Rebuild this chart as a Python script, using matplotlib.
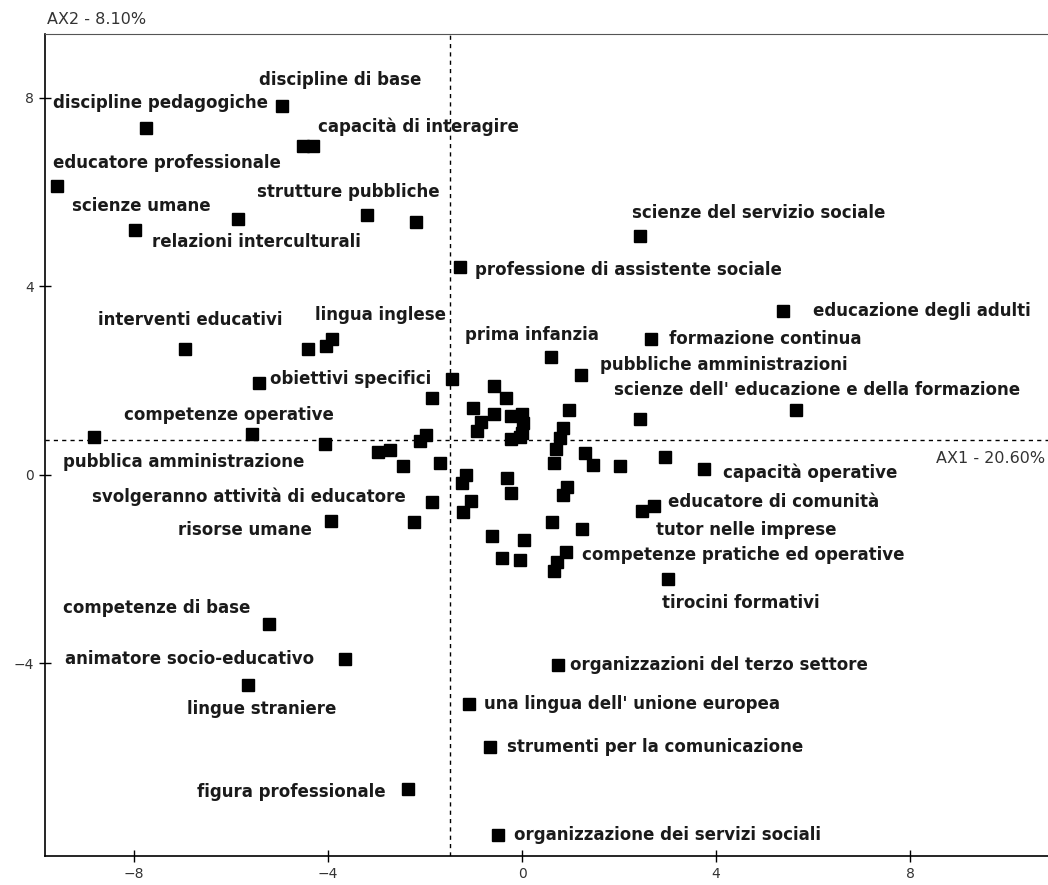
import matplotlib
matplotlib.use("Agg")
from matplotlib import pyplot as plt

# coordinates of every plotted item (AX1, AX2)
ax1 = [-7.76, -4.95, -4.52, -4.30, -9.59, -7.98, -5.85, -3.20, -2.18, 2.44,
       -1.28, 5.39, 2.66, -6.95, -4.41, -4.04, -3.91, 0.60, 1.21, -5.42,
       -1.44, -1.86, -0.57, -0.33, -1.02, -0.57, -0.85, -0.93, -0.23, -0.01,
       0.01, -0.01, -0.23, -0.04, 0.97, 0.84, 0.78, 0.69, 0.66, 1.30,
       1.46, 2.01, 2.44, 5.64, 2.95, 3.76, -5.57, -8.82, -4.06, -2.96,
       -2.72, -2.45, -2.10, -1.98, -1.70, -1.86, -3.94, -2.23, -1.15, -1.24,
       -1.06, -1.21, -0.62, -0.30, -0.23, 0.93, 0.84, 0.62, 1.24, 0.04,
       -0.41, -0.04, 0.91, 0.73, 0.66, 2.47, 2.72, 3.00, -5.21, -3.66,
       -5.66, -2.36, 0.74, -1.10, -0.67, -0.50]
ax2 = [7.37, 7.82, 6.99, 6.97, 6.14, 5.20, 5.43, 5.52, 5.36, 5.06,
       4.42, 3.48, 2.89, 2.67, 2.67, 2.74, 2.89, 2.49, 2.11, 1.95,
       2.04, 1.63, 1.89, 1.63, 1.42, 1.30, 1.11, 0.92, 1.25, 1.30,
       1.10, 0.89, 0.76, 0.81, 1.38, 0.99, 0.78, 0.55, 0.25, 0.46,
       0.21, 0.18, 1.19, 1.38, 0.38, 0.12, 0.87, 0.81, 0.65, 0.49,
       0.53, 0.19, 0.71, 0.85, 0.25, -0.57, -0.98, -1.01, 0.00, -0.18,
       -0.55, -0.79, -1.30, -0.06, -0.39, -0.25, -0.42, -1.01, -1.15, -1.39,
       -1.77, -1.80, -1.64, -1.86, -2.05, -0.76, -0.66, -2.21, -3.16, -3.91,
       -4.46, -6.67, -4.03, -4.86, -5.77, -7.64]

# words written on the map and where they sit
terms = ["discipline di base", "discipline pedagogiche", "capacità di interagire",
         "educatore professionale", "strutture pubbliche", "scienze umane",
         "relazioni interculturali", "scienze del servizio sociale",
         "professione di assistente sociale", "educazione degli adulti",
         "interventi educativi", "lingua inglese", "prima infanzia",
         "formazione continua", "pubbliche amministrazioni", "obiettivi specifici",
         "scienze dell' educazione e della formazione", "competenze operative",
         "pubblica amministrazione", "capacità operative",
         "svolgeranno attività di educatore", "educatore di comunità",
         "risorse umane", "tutor nelle imprese", "competenze pratiche ed operative",
         "tirocini formativi", "competenze di base", "animatore socio-educativo",
         "organizzazioni del terzo settore", "lingue straniere",
         "una lingua dell' unione europea", "strumenti per la comunicazione",
         "figura professionale", "organizzazione dei servizi sociali"]
term_x = [-5.42, -9.67, -4.21, -9.67, -5.46, -9.28, -7.63, 2.26, -0.98, 6.00,
          -8.74, -4.27, -1.17, 3.04, 1.60, -5.20, 1.90, -8.21, -9.46, 4.15,
          -8.87, 3.01, -7.09, 2.77, 1.23, 2.89, -9.46, -9.42, 0.99, -6.91,
          -0.79, -0.32, -6.71, -0.17]
term_y = [8.39, 7.89, 7.39, 6.62, 6.01, 5.70, 4.95, 5.56, 4.35, 3.47,
          3.29, 3.40, 2.97, 2.89, 2.34, 2.04, 1.80, 1.26, 0.28, 0.04,
          -0.47, -0.57, -1.17, -1.17, -1.70, -2.72, -2.83, -3.91, -4.03, -4.97,
          -4.87, -5.77, -6.74, -7.64]

origin_x = -1.48
origin_y = 0.74

fig = plt.figure(figsize=(10.48, 8.85), dpi=100)
ax = fig.add_axes([0.043, 0.033, 0.957, 0.9285])

ax.plot(ax1, ax2, linestyle="none", marker="s", ms=8.5, color="black")

for t, x, y in zip(terms, term_x, term_y):
    ax.text(x, y, t, ha="left", va="center", fontsize=12,
            fontweight="bold", color="#1a1a1a")

ax.axvline(origin_x, color="black", lw=1, dashes=(3, 3))
ax.axhline(origin_y, color="black", lw=1, dashes=(3, 3))

ax.set_xlim(-9.835, 10.845)
ax.set_ylim(-8.09, 9.357)
ax.set_xticks([-8, -4, 0, 4, 8])
ax.set_yticks([-4, 0, 4, 8])
ax.tick_params(direction="inout", length=9, width=1, labelsize=10,
               labelcolor="#333333")

ax.spines["right"].set_visible(False)
ax.spines["top"].set_color("#555555")
ax.spines["left"].set_linewidth(1.2)
ax.spines["bottom"].set_linewidth(1.2)

# axis names with their share of inertia
fig.text(47 / 1048, 1 - 20 / 885, "AX2 - 8.10%", ha="left", va="center",
         fontsize=11.5, color="#333333")
ax.text((936 - 522) / 48.5, 0.35, "AX1 - 20.60%", ha="left", va="center",
        fontsize=11.5, color="#333333")

plt.savefig("out.png", dpi=100)
